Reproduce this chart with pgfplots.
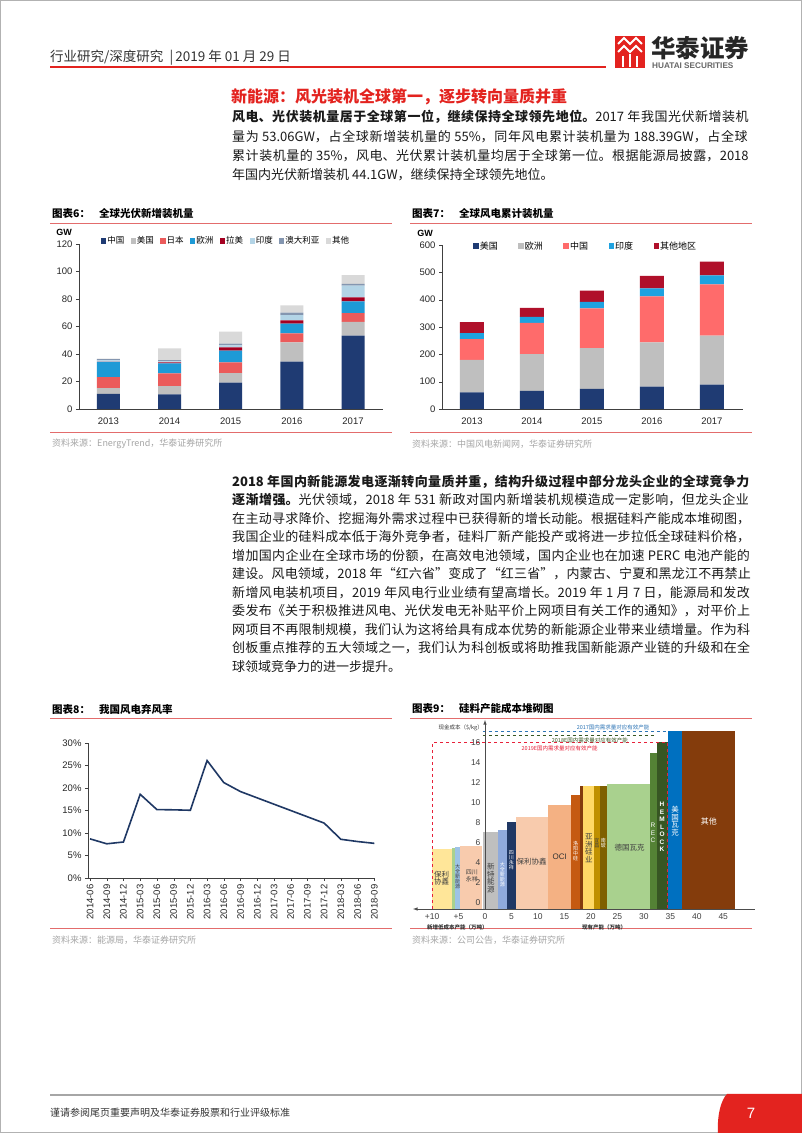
\documentclass[border=0pt]{standalone}
\usepackage{pgfplots}
\pgfplotsset{compat=1.18}
\usepackage{fontspec}
\setmainfont{Liberation Sans}
\newfontfamily\cjk{Noto Sans CJK SC}
\newcommand\fsz[1]{\fontsize{#1}{#1}\selectfont}
\definecolor{hred}{HTML}{E3231F}
\definecolor{tline}{HTML}{E36C6C}
\definecolor{srcg}{HTML}{A6A6A6}
\definecolor{body}{HTML}{1A1A1A}
\definecolor{c6cn}{HTML}{1F3B73}
\definecolor{c6us}{HTML}{BFBFBF}
\definecolor{c6jp}{HTML}{EB5B5B}
\definecolor{c6eu}{HTML}{1E9AD6}
\definecolor{c6la}{HTML}{A50021}
\definecolor{c6in}{HTML}{B3D4E6}
\definecolor{c6au}{HTML}{8496B0}
\definecolor{c6ot}{HTML}{D9D9D9}
\definecolor{c7cn}{HTML}{FF6B6B}
\definecolor{c7in}{HTML}{1FA2E0}
\definecolor{c7ot}{HTML}{B0102A}
\definecolor{c8}{HTML}{1F3864}
\definecolor{k1}{HTML}{FFE699}
\definecolor{k2}{HTML}{A9D18E}
\definecolor{k3}{HTML}{9DC3E6}
\definecolor{k4}{HTML}{F8CBAD}
\definecolor{k5}{HTML}{BFBFBF}
\definecolor{k6}{HTML}{8FAADC}
\definecolor{k7}{HTML}{203864}
\definecolor{k8}{HTML}{F4B183}
\definecolor{k9}{HTML}{C55A11}
\definecolor{k10}{HTML}{843C0C}
\definecolor{k11}{HTML}{FFD966}
\definecolor{k12}{HTML}{BF9000}
\definecolor{k13}{HTML}{7F6000}
\definecolor{k14}{HTML}{548235}
\definecolor{k15}{HTML}{375623}
\definecolor{k16}{HTML}{0070C0}
\definecolor{kblue}{HTML}{2E75B6}
\definecolor{kgreen}{HTML}{375623}
\definecolor{kred}{HTML}{E8213A}
\newcommand\jline[2]{\node[anchor=west,inner sep=0pt,text width=520pt] at (232,1133-#1) {\noindent\cjk\fsz{13}\color{body}\XeTeXlinebreaklocale "zh"\XeTeXlinebreakskip=0pt plus 3pt minus 0.4pt\parfillskip=0pt\relax #2\par};}
\newcommand\lline[2]{\node[anchor=west,inner sep=0pt] at (232,1133-#1) {\cjk\fsz{13}\color{body}#2};}
\newcommand\ctitle[4]{\node[anchor=west,inner sep=0pt] at (#1,1133-#2) {\cjk\bfseries\fsz{10.5}#3\hspace{9pt}#4};
\draw[tline,line width=0.8pt] (#1-2,1133-#2-9) -- (#1+340,1133-#2-9);}
\newcommand\csource[3]{\draw[tline,line width=0.8pt] (#1-2,1133-#2+12) -- (#1+340,1133-#2+12);
\node[anchor=west,inner sep=0pt] at (#1,1133-#2) {\cjk\fsz{9}\color{srcg}#3};}
\begin{document}
\begin{tikzpicture}[x=1pt,y=1pt]
\fill[white] (0,0) rectangle (802,1133);
\draw[gray!60,line width=1pt] (0.5,0.5) rectangle (801.5,1132.5);
% header
\node[anchor=west,inner sep=0pt] at (50,1133-58) {\cjk\fsz{13.5}\color{black!80}行业研究/深度研究 \ |\,2019 年 01 月 29 日};
\draw[hred,line width=1.6pt] (50,1133-67) -- (606,1133-67);
% logo
\fill[hred] (615,1133-68) rectangle (645,1133-36);
\draw[white,line width=2pt] (618,1133-44) -- (624,1133-38) -- (630,1133-44) -- (636,1133-38) -- (642,1133-44);
\draw[white,line width=2pt] (618,1133-52) -- (624,1133-46) -- (630,1133-52) -- (636,1133-46) -- (642,1133-52);
\draw[white,line width=2pt] (623,1133-56) -- (623,1133-67) (630,1133-54) -- (630,1133-67) (637,1133-56) -- (637,1133-67);
\node[anchor=west,inner sep=0pt] at (651,1133-48) {\cjk\bfseries\fsz{24.5}\color{black!85}华泰证券};
\node[anchor=west,inner sep=0pt] at (652,1133-65.5) {\bfseries\fsz{8.2}\color{black!60}HUATAI SECURITIES};
% section title
\node[anchor=west,inner sep=0pt] at (231,1133-97) {\cjk\bfseries\fsz{16}\color{hred}新能源：风光装机全球第一，逐步转向量质并重};
% paragraph 1
\jline{117}{{\bfseries 风电、光伏装机量居于全球第一位，继续保持全球领先地位。}2017 年我国光伏新增装机}
\jline{137}{量为 53.06GW，占全球新增装机量的 55\%，同年风电累计装机量为 188.39GW，占全球}
\jline{156}{累计装机量的 35\%，风电、光伏累计装机量均居于全球第一位。根据能源局披露，2018}
\lline{175}{年国内光伏新增装机 44.1GW，继续保持全球领先地位。}
% paragraph 2
\jline{481.5}{{\bfseries 2018 年国内新能源发电逐渐转向量质并重，结构升级过程中部分龙头企业的全球竞争力}}
\jline{500}{{\bfseries 逐渐增强。}光伏领域，2018 年 531 新政对国内新增装机规模造成一定影响，但龙头企业}
\jline{518.5}{在主动寻求降价、挖掘海外需求过程中已获得新的增长动能。根据硅料产能成本堆砌图，}
\jline{537}{我国企业的硅料成本低于海外竞争者，硅料厂新产能投产或将进一步拉低全球硅料价格，}
\jline{555.5}{增加国内企业在全球市场的份额，在高效电池领域，国内企业也在加速 PERC 电池产能的}
\jline{574}{建设。风电领域，2018 年“红六省”变成了“红三省”，内蒙古、宁夏和黑龙江不再禁止}
\jline{592.5}{新增风电装机项目，2019 年风电行业业绩有望高增长。2019 年 1 月 7 日，能源局和发改}
\jline{611}{委发布《关于积极推进风电、光伏发电无补贴平价上网项目有关工作的通知》，对平价上}
\jline{629.5}{网项目不再限制规模，我们认为这将给具有成本优势的新能源企业带来业绩增量。作为科}
\jline{648}{创板重点推荐的五大领域之一，我们认为科创板或将助推我国新能源产业链的升级和在全}
\lline{666.5}{球领域竞争力的进一步提升。}
% chart titles and sources
\ctitle{52}{214}{图表6：}{全球光伏新增装机量}
\ctitle{412}{214}{图表7：}{全球风电累计装机量}
\ctitle{52}{709}{图表8：}{我国风电弃风率}
\ctitle{412}{709}{图表9：}{硅料产能成本堆砌图}
\csource{52}{444}{资料来源：EnergyTrend，华泰证券研究所}
\csource{412}{444}{资料来源：中国风电新闻网，华泰证券研究所}
\csource{52}{940}{资料来源：能源局，华泰证券研究所}
\csource{412}{940}{资料来源：公司公告，华泰证券研究所}
% ---------------- chart 6
\node[font=\bfseries\fsz{9}] at (64,1133-232) {GW};
\begin{axis}[at={(79pt,724pt)},anchor=south west,scale only axis,width=304pt,height=165pt,
  ybar stacked,bar width=23pt,xmin=-0.48,xmax=4.49,ymin=0,ymax=120,
  ytick={0,20,...,120},xtick={0,1,2,3,4},xticklabels={2013,2014,2015,2016,2017},
  axis x line*=bottom,axis y line*=left,axis line style={-,draw=black!75,line width=0.7pt},
  tick align=outside,major tick length=3pt,xtick style={draw=none},ytick style={black!75},
  tick label style={font=\fsz{9.5},text=black!85},/pgf/number format/assume math mode=true,
  xticklabel style={yshift=-2pt},
  legend style={at={(0.072,1.018)},anchor=west,draw=none,fill=none,inner sep=0pt,
    legend columns=-1,font=\cjk\fsz{8.5},nodes={inner sep=1pt},
    /tikz/every even column/.append style={column sep=5.5pt}},
  legend image code/.code={\fill[#1] (0pt,-2.6pt) rectangle (5.2pt,2.6pt);},
  clip=false]
\addplot[fill=c6cn,draw=none] coordinates {(0,10.95)(1,10.6)(2,19.1)(3,34.4)(4,53.3)};
\addplot[fill=c6us,draw=none] coordinates {(0,4.25)(1,6.1)(2,7.0)(3,14.0)(4,10.1)};
\addplot[fill=c6jp,draw=none] coordinates {(0,8.0)(1,9.2)(2,7.8)(3,6.6)(4,6.3)};
\addplot[fill=c6eu,draw=none] coordinates {(0,10.9)(1,7.3)(2,8.5)(3,7.0)(4,8.5)};
\addplot[fill=c6la,draw=none] coordinates {(0,0.2)(1,0.7)(2,2.4)(3,2.4)(4,2.9)};
\addplot[fill=c6in,draw=none] coordinates {(0,1.1)(1,0.7)(2,1.4)(3,3.9)(4,8.7)};
\addplot[fill=c6au,draw=none] coordinates {(0,0.8)(1,1.0)(2,1.3)(3,1.7)(4,1.2)};
\addplot[fill=c6ot,draw=none] coordinates {(0,0.4)(1,8.4)(2,8.7)(3,5.3)(4,6.3)};
\legend{中国,美国,日本,欧洲,拉美,印度,澳大利亚,其他}
\node[text=white,font=\fsz{10}] at (axis cs:0,5.2) {30\%};
\node[text=white,font=\fsz{10}] at (axis cs:1,5.0) {24\%};
\node[text=white,font=\fsz{10}] at (axis cs:2,9.0) {34\%};
\node[text=white,font=\fsz{10}] at (axis cs:3,17.5) {46\%};
\node[text=white,font=\fsz{10}] at (axis cs:4,26.0) {55\%};
\end{axis}
% ---------------- chart 7
\node[font=\bfseries\fsz{9}] at (425,1133-233) {GW};
\begin{axis}[at={(442pt,724pt)},anchor=south west,scale only axis,width=301pt,height=164pt,
  ybar stacked,bar width=24pt,xmin=-0.5,xmax=4.52,ymin=0,ymax=600,
  ytick={0,100,...,600},xtick={0,1,2,3,4},xticklabels={2013,2014,2015,2016,2017},
  axis x line*=bottom,axis y line*=left,axis line style={-,draw=black!75,line width=0.7pt},
  tick align=outside,major tick length=3pt,xtick style={draw=none},ytick style={black!75},
  tick label style={font=\fsz{9.5},text=black!85},/pgf/number format/assume math mode=true,
  xticklabel style={yshift=-2pt},
  legend style={at={(0.103,0.994)},anchor=west,draw=none,fill=none,inner sep=0pt,
    legend columns=-1,font=\cjk\fsz{9},nodes={inner sep=1pt},
    /tikz/every even column/.append style={column sep=19.5pt}},
  legend image code/.code={\fill[#1] (0pt,-2.8pt) rectangle (5.6pt,2.8pt);},
  clip=false]
\addplot[fill=c6cn,draw=none] coordinates {(0,61)(1,66)(2,74)(3,82)(4,89)};
\addplot[fill=c6us,draw=none] coordinates {(0,119)(1,135)(2,149)(3,162)(4,179)};
\addplot[fill=c7cn,draw=none] coordinates {(0,76)(1,114)(2,145)(3,168)(4,188)};
\addplot[fill=c7in,draw=none] coordinates {(0,22)(1,22)(2,24)(3,29)(4,33)};
\addplot[fill=c7ot,draw=none] coordinates {(0,40)(1,33)(2,41)(3,46)(4,50)};
\legend{美国,欧洲,中国,印度,其他地区}
\node[text=black!80,font=\fsz{10}] at (axis cs:0,219) {24\%};
\node[text=black!80,font=\fsz{10}] at (axis cs:1,256) {31\%};
\node[text=black!80,font=\fsz{10}] at (axis cs:2,293) {34\%};
\node[text=black!80,font=\fsz{10}] at (axis cs:3,329) {35\%};
\node[text=black!80,font=\fsz{10}] at (axis cs:4,358) {35\%};
\end{axis}
% ---------------- chart 8
\begin{axis}[at={(88pt,255pt)},anchor=south west,scale only axis,width=287pt,height=135pt,
  xmin=-0.12,xmax=17.04,ymin=0,ymax=30,ytick={0,5,...,30},
  yticklabel={\pgfmathprintnumber{\tick}\%},
  xtick={0,...,17},
  xticklabels={2014-06,2014-09,2014-12,2015-03,2015-06,2015-09,2015-12,2016-03,2016-06,2016-09,2016-12,2017-03,2017-06,2017-09,2017-12,2018-03,2018-06,2018-09},
  axis x line*=bottom,axis y line*=left,axis line style={-,draw=black!75,line width=0.7pt},
  tick align=outside,major tick length=3pt,tick style={black!75},
  tick label style={font=\fsz{9.5},text=black!85},/pgf/number format/assume math mode=true,
  x tick label style={rotate=90,anchor=east},
  clip=false]
\addplot[c8,line width=1.6pt,mark=none] coordinates {(0,8.7)(1,7.6)(2,8.0)(3,18.6)(4,15.2)(5,15.15)(6,15.05)(7,26.1)(8,21.2)(9,19.2)(10,17.8)(11,16.4)(12,15.0)(13,13.6)(14,12.2)(15,8.6)(16,8.1)(17,7.7)};
\end{axis}
% ---------------- chart 9
\begin{axis}[at={(413pt,224pt)},anchor=south west,scale only axis,width=342pt,height=189pt,
  xmin=-13.6,xmax=51,ymin=-0.6,ymax=18.3,
  axis x line=bottom,axis y line=center,
  x axis line style={latex-,draw=black!70,line width=0.6pt},
  y axis line style={-latex,draw=black!70,line width=0.6pt},
  hide obscured x ticks=false,hide obscured y ticks=false,
  xtick={-10,-5,0,5,...,45},xticklabels={+10,+5,0,5,10,15,20,25,30,35,40,45},
  ytick={0,2,...,16},major tick length=0pt,
  tick label style={font=\fsz{8.5},text=black!75},/pgf/number format/assume math mode=true,
  xticklabel style={yshift=-1pt},yticklabel style={xshift=-1pt},
  axis on top,clip=false]
\addplot[fill=k1,draw=none] coordinates {(-10,-0.6)(-10,5.4)(-6.2,5.4)(-6.2,-0.6)} --cycle;
\addplot[fill=k2,draw=none] coordinates {(-6.2,-0.6)(-6.2,5.5)(-5.6,5.5)(-5.6,-0.6)} --cycle;
\addplot[fill=k3,draw=none] coordinates {(-5.6,-0.6)(-5.6,5.6)(-4.7,5.6)(-4.7,-0.6)} --cycle;
\addplot[fill=k4,draw=none] coordinates {(-4.7,-0.6)(-4.7,5.7)(-0.5,5.7)(-0.5,-0.6)} --cycle;
\addplot[fill=k5,draw=none] coordinates {(-0.4,-0.6)(-0.4,7.1)(2.5,7.1)(2.5,-0.6)} --cycle;
\addplot[fill=k6,draw=none] coordinates {(2.5,-0.6)(2.5,7.3)(4.1,7.3)(4.1,-0.6)} --cycle;
\addplot[fill=k7,draw=none] coordinates {(4.1,-0.6)(4.1,8.1)(5.9,8.1)(5.9,-0.6)} --cycle;
\addplot[fill=k4,draw=none] coordinates {(5.9,-0.6)(5.9,8.6)(11.9,8.6)(11.9,-0.6)} --cycle;
\addplot[fill=k8,draw=none] coordinates {(11.9,-0.6)(11.9,9.8)(16.2,9.8)(16.2,-0.6)} --cycle;
\addplot[fill=k9,draw=none] coordinates {(16.2,-0.6)(16.2,10.8)(18.0,10.8)(18.0,-0.6)} --cycle;
\addplot[fill=k10,draw=none] coordinates {(18.0,-0.6)(18.0,11.7)(18.6,11.7)(18.6,-0.6)} --cycle;
\addplot[fill=k11,draw=none] coordinates {(18.6,-0.6)(18.6,11.7)(20.6,11.7)(20.6,-0.6)} --cycle;
\addplot[fill=k12,draw=none] coordinates {(20.6,-0.6)(20.6,11.7)(21.7,11.7)(21.7,-0.6)} --cycle;
\addplot[fill=k13,draw=none] coordinates {(21.7,-0.6)(21.7,11.7)(23.0,11.7)(23.0,-0.6)} --cycle;
\addplot[fill=k2,draw=none] coordinates {(23.0,-0.6)(23.0,11.9)(31.1,11.9)(31.1,-0.6)} --cycle;
\addplot[fill=k14,draw=none] coordinates {(31.1,-0.6)(31.1,15.0)(32.4,15.0)(32.4,-0.6)} --cycle;
\addplot[fill=k15,draw=none] coordinates {(32.4,-0.6)(32.4,16.1)(34.5,16.1)(34.5,-0.6)} --cycle;
\addplot[fill=k16,draw=none] coordinates {(34.5,-0.6)(34.5,17.2)(37.3,17.2)(37.3,-0.6)} --cycle;
\addplot[fill=k10,draw=none] coordinates {(37.3,-0.6)(37.3,17.2)(47.3,17.2)(47.3,-0.6)} --cycle;
\addplot[kred,dashed,line width=1pt] coordinates {(-10,-0.6)(-10,16)(34.5,16)(34.5,-0.6)};
\addplot[kgreen,dashed,line width=1pt] coordinates {(-0.4,16.7)(32.4,16.7)};
\addplot[kblue,dashed,line width=1pt] coordinates {(-0.4,17.1)(34.5,17.1)};
% labels
\node[font=\cjk\fsz{5.5},text=kblue] at (axis cs:24.2,17.55) {2017国内需求量对应有效产能};
\node[font=\cjk\fsz{5.5},text=kgreen] at (axis cs:19.8,16.3) {2018E国内需求量对应有效产能};
\node[font=\cjk\fsz{5.5},text=kred] at (axis cs:14.1,15.45) {2019E国内需求量对应有效产能};
\node[font=\cjk\fsz{5.5},text=black!80] at (axis cs:-4.6,17.55) {现金成本（\$/kg）};
\node[font=\cjk\bfseries\fsz{5.5},text=black!80] at (axis cs:-5.2,-2.4) {新增低成本产能（万吨）};
\node[font=\cjk\bfseries\fsz{5.5},text=black!80] at (axis cs:22.5,-2.4) {现有产能（万吨）};
\node[font=\cjk\fsz{7.5},align=center,text=black!75,inner sep=0pt] at (axis cs:-8.2,2.5) {保利\\[-1pt]协鑫};
\node[font=\cjk\fsz{5},align=center,text=black!75,inner sep=0pt] at (axis cs:-5.15,2.6) {大\\全\\新\\能\\源};
\node[font=\cjk\fsz{6},align=center,text=black!75,inner sep=0pt] at (axis cs:-2.5,2.7) {四川\\[1pt]永祥};
\node[font=\cjk\fsz{7.5},align=center,text=black!75,inner sep=0pt] at (axis cs:1.1,2.5) {新\\特\\能\\源};
\node[font=\cjk\fsz{5},align=center,text=white,inner sep=0pt] at (axis cs:3.3,2.8) {大\\全\\新\\能\\源};
\node[font=\cjk\fsz{5},align=center,text=white,inner sep=0pt] at (axis cs:5.0,4.3) {四\\川\\永\\祥};
\node[font=\cjk\fsz{7.5},text=black!75,inner sep=0pt] at (axis cs:8.8,4.1) {保利协鑫};
\node[font=\fsz{8},text=black!80,inner sep=0pt] at (axis cs:14.1,4.6) {OCI};
\node[font=\cjk\fsz{5},align=center,text=white,inner sep=0pt] at (axis cs:17.1,5.2) {洛\\阳\\中\\硅};
\node[font=\cjk\fsz{7.5},align=center,text=black!75,inner sep=0pt] at (axis cs:19.6,5.5) {亚\\洲\\硅\\业};
\node[font=\cjk\fsz{5},align=center,text=black!75,inner sep=0pt] at (axis cs:21.15,6.0) {宜\\昌};
\node[font=\cjk\fsz{5},align=center,text=white,inner sep=0pt] at (axis cs:22.35,6.0) {南\\玻};
\node[font=\cjk\fsz{7.5},text=black!75,inner sep=0pt] at (axis cs:27.3,5.5) {德国瓦克};
\node[font=\fsz{6.5},align=center,text=white,inner sep=0pt] at (axis cs:31.75,7.0) {R\\[1pt]E\\[1pt]C};
\node[font=\bfseries\fsz{6.5},align=center,text=white,inner sep=0pt] at (axis cs:33.45,7.6) {H\\[1pt]E\\[1pt]M\\[1pt]L\\[1pt]O\\[1pt]C\\[1pt]K};
\node[font=\cjk\fsz{7.5},align=center,text=white,inner sep=0pt] at (axis cs:35.9,8.2) {美\\国\\瓦\\克};
\node[font=\cjk\fsz{8},text=white,inner sep=0pt] at (axis cs:42.3,8.2) {其他};
\end{axis}
% footer
\draw[gray!70,line width=1.3pt] (50,1133-1095) -- (728,1133-1095);
\fill[hred] (727,1133-1094) -- (802,1133-1094) -- (802,0) -- (718,0) .. controls (717,1133-1115) and (721,1133-1100) .. cycle;
\node[text=white,font=\fsz{15}] at (751,1133-1113) {7};
\node[anchor=west,inner sep=0pt] at (50,1133-1113) {\cjk\fsz{10}\color{black!80}谨请参阅尾页重要声明及华泰证券股票和行业评级标准};
\end{tikzpicture}
\end{document}
